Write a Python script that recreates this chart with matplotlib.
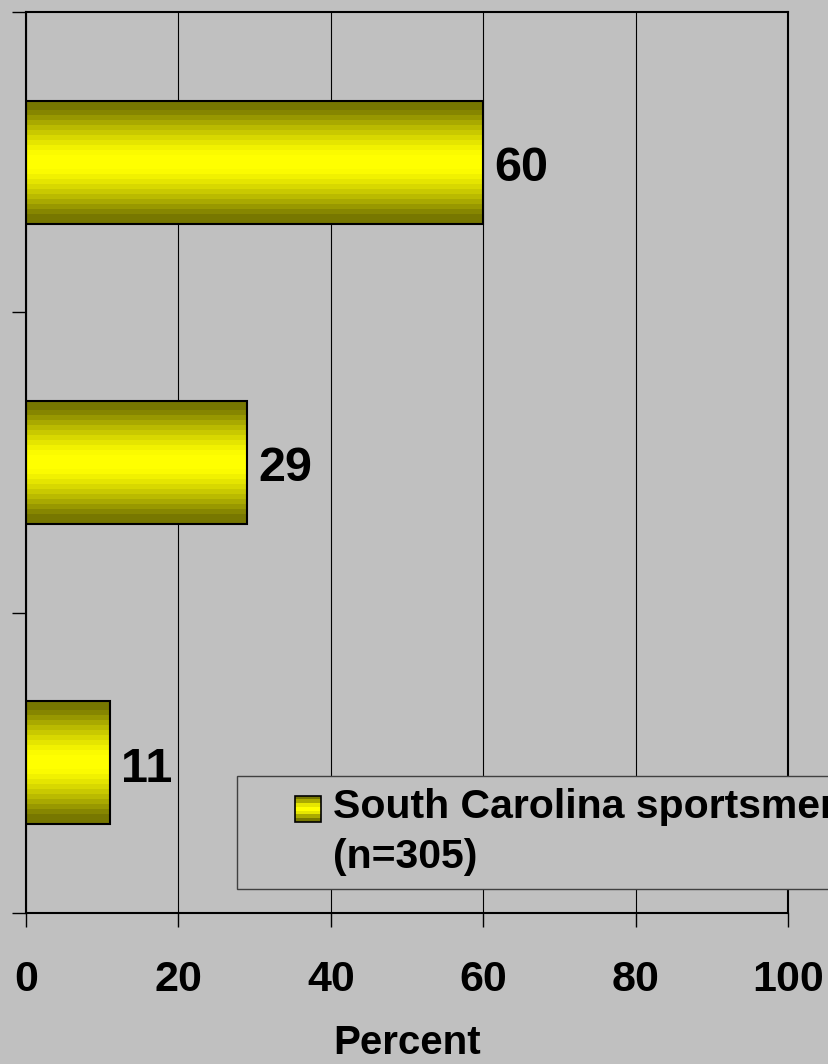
import numpy as np
import matplotlib.pyplot as plt
from matplotlib.patches import Rectangle
from matplotlib.legend_handler import HandlerBase

# bars from bottom to top
values = [11, 29, 60]
positions = [0, 1, 2]
xticks = [0, 20, 40, 60, 80, 100]
series_label = "South Carolina sportsmen\n(n=305)"
xlabel = "Percent"

BG = "#c0c0c0"
BAR_HEIGHT = 0.41


def gradient_colors(n=25):
    """Olive -> yellow -> olive bands, like the old Excel fill."""
    t = np.linspace(0, 1, n)
    d = np.abs(t - 0.5) * 2
    k = np.clip((d - 0.12) / 0.78, 0, 1)
    f = 1 - 0.53 * k ** 1.3
    return np.stack([f, f, np.zeros_like(f)], axis=1)


class GradientHandler(HandlerBase):
    """Small striped square, lined up with the first text line."""
    def create_artists(self, legend, orig_handle, xdescent, ydescent,
                       width, height, fontsize, trans):
        size = 0.64 * fontsize
        lift = 0.62 * fontsize  # move up from the last line to the first
        cols = gradient_colors(7)
        x0 = width - xdescent - size
        y0 = lift
        arts = []
        step = size / len(cols)
        for i, c in enumerate(cols):
            r = Rectangle((x0, y0 + size - (i + 1) * step), size, step,
                          facecolor=c, edgecolor="none", transform=trans)
            arts.append(r)
        arts.append(Rectangle((x0, y0), size, size, facecolor="none",
                              edgecolor="black", linewidth=1.2, transform=trans))
        return arts


plt.rcParams["font.family"] = ["Liberation Sans", "DejaVu Sans"]
plt.rcParams["font.weight"] = "bold"

fig = plt.figure(figsize=(8.29, 10.64), dpi=100, facecolor=BG)
ax = fig.add_axes([26 / 829, 1 - 913 / 1064, 762 / 829, 901 / 1064])
ax.set_facecolor(BG)

img = gradient_colors(25)[:, None, :]
for y, v in zip(positions, values):
    ax.imshow(img, extent=(0, v, y - BAR_HEIGHT / 2, y + BAR_HEIGHT / 2),
              aspect="auto", interpolation="nearest", zorder=2)
bars = ax.barh(positions, values, height=BAR_HEIGHT, color="none",
               edgecolor="black", linewidth=1.5, zorder=3, label=series_label)

for y, v in zip(positions, values):
    ax.annotate(str(v), (v, y), xytext=(8, -4.5), textcoords="offset points",
                ha="left", va="center", fontsize=35, fontweight="bold")

ax.set_xlim(0, 100)
ax.set_ylim(-0.5, 2.5)
ax.set_xticks(xticks)
ax.set_xticklabels([str(x) for x in xticks])
ax.set_yticks([-0.5, 0.5, 1.5, 2.5])
ax.set_yticklabels([])
ax.tick_params(axis="x", direction="out", length=10, width=1, pad=24,
               labelsize=31)
ax.tick_params(axis="y", direction="out", length=10, width=1)
ax.set_xlabel(xlabel, fontsize=29, fontweight="bold", labelpad=17)

ax.grid(axis="x", color="black", linewidth=0.8)
ax.set_axisbelow(True)
for s in ax.spines.values():
    s.set_linewidth(1.5)
    s.set_color("black")

leg = ax.legend(handles=[bars], labels=[series_label],
                handler_map={type(bars): GradientHandler()},
                loc="upper left", bbox_to_anchor=(0.277, 0.152),
                borderaxespad=0, fontsize=29.5, frameon=True, fancybox=False,
                facecolor=BG, edgecolor="#404040", framealpha=1,
                borderpad=0.3, handlelength=1.75, handletextpad=0.3)
leg.get_frame().set_linewidth(1.0)
for t in leg.get_texts():
    t.set_linespacing(1.4)

fig.savefig("out.png", dpi=100, facecolor=BG)
